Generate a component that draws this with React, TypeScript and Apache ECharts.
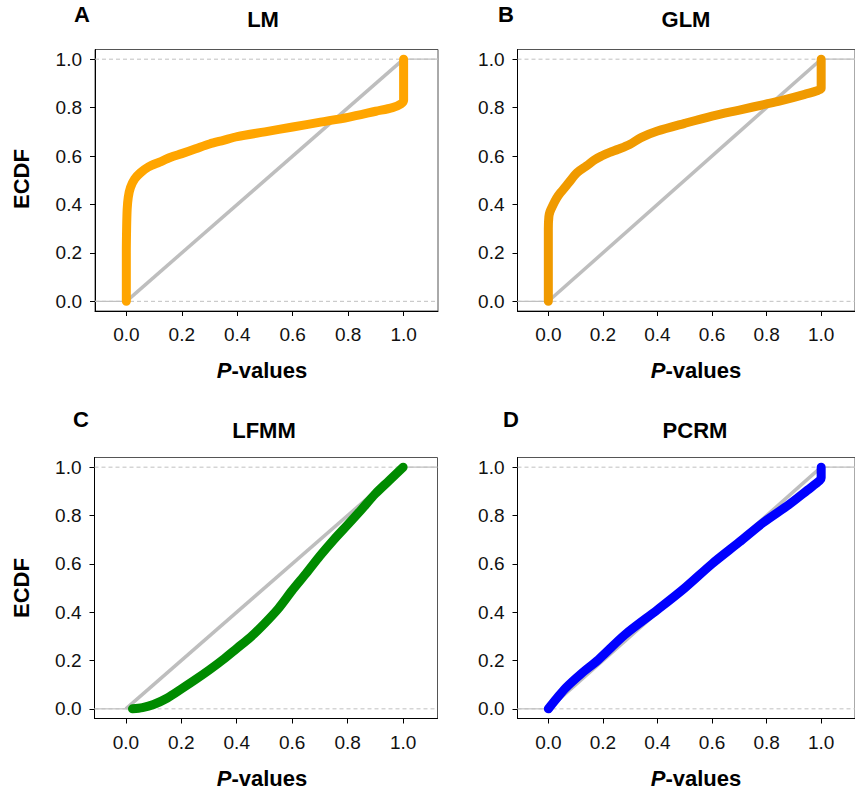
import React, { useEffect, useRef } from "react";
import * as echarts from "echarts";

// ---- Data ----
const tickValues = [0, 0.2, 0.4, 0.6, 0.8, 1.0];
const panelLetters = ["A", "B", "C", "D"];
const panelTitles = ["LM", "GLM", "LFMM", "PCRM"];
const panelColors = ["#FFA500", "#F09A00", "#008B00", "#0000FF"];

const lmP = [0, 0, 0, 0.001, 0.003, 0.007, 0.015, 0.03, 0.05, 0.08, 0.12, 0.16, 0.2, 0.25, 0.3, 0.35, 0.4, 0.5, 0.6, 0.7, 0.8, 0.9, 0.96, 0.99, 1.0, 1.0];
const lmEcdf = [0, 0.1, 0.2, 0.3, 0.38, 0.43, 0.47, 0.505, 0.53, 0.555, 0.575, 0.595, 0.61, 0.63, 0.65, 0.665, 0.68, 0.7, 0.72, 0.74, 0.76, 0.785, 0.8, 0.815, 0.83, 1.0];

const glmP = [0, 0, 0, 0.002, 0.006, 0.015, 0.03, 0.045, 0.075, 0.105, 0.14, 0.17, 0.195, 0.225, 0.256, 0.298, 0.34, 0.4, 0.5, 0.6, 0.7, 0.8, 0.85, 0.94, 0.99, 1.0, 1.0];
const glmEcdf = [0, 0.15, 0.3, 0.35, 0.37, 0.393, 0.425, 0.449, 0.49, 0.531, 0.559, 0.585, 0.6, 0.615, 0.628, 0.648, 0.676, 0.703, 0.735, 0.765, 0.79, 0.815, 0.828, 0.855, 0.872, 0.88, 1.0];

const lfmmP = [0.024, 0.06, 0.1, 0.15, 0.2, 0.25, 0.3, 0.35, 0.4, 0.45, 0.5, 0.55, 0.6, 0.65, 0.7, 0.75, 0.8, 0.85, 0.9, 0.95, 1.0];
const lfmmEcdf = [0, 0.005, 0.018, 0.045, 0.082, 0.12, 0.16, 0.203, 0.25, 0.297, 0.353, 0.415, 0.49, 0.56, 0.633, 0.7, 0.762, 0.825, 0.89, 0.945, 1.0];

const pcrmP = [0, 0.03, 0.064, 0.12, 0.184, 0.281, 0.4, 0.5, 0.6, 0.7, 0.787, 0.883, 0.95, 0.995, 1.0, 1.0];
const pcrmEcdf = [0, 0.042, 0.087, 0.145, 0.204, 0.307, 0.41, 0.5, 0.6, 0.69, 0.77, 0.846, 0.905, 0.945, 0.955, 1.0];

const panelX = [lmP, glmP, lfmmP, pcrmP];
const panelY = [lmEcdf, glmEcdf, lfmmEcdf, pcrmEcdf];

const xMin = -0.113;
const xMax = 1.124;
const yMin = -0.04;
const yMax = 1.04;

const FONT = "'Liberation Sans', Arial, Helvetica, sans-serif";

export default function App() {
  const ref = useRef<HTMLDivElement>(null);

  useEffect(() => {
    if (!ref.current) return;
    const chart = echarts.init(ref.current, undefined, { renderer: "svg" });

    const grids = [
      { left: 95, top: 49.5, width: 343, height: 261.5 },
      { left: 517.5, top: 49.5, width: 343, height: 261.5 },
      { left: 94.5, top: 457.5, width: 343, height: 261 },
      { left: 517.5, top: 457.5, width: 343, height: 261 },
    ];

    const xAxes = grids.map((_, i) => ({
      type: "value",
      gridIndex: i,
      min: xMin,
      max: xMax,
      axisLine: { show: true, onZero: false, lineStyle: { color: "#000", width: 1 } },
      axisTick: { show: true, length: 5, customValues: tickValues, lineStyle: { color: "#000" } },
      axisLabel: {
        customValues: tickValues,
        formatter: (v: number) => v.toFixed(1),
        fontSize: 19,
        color: "#111",
        fontFamily: FONT,
        margin: 14,
      },
      splitLine: { show: false },
    }));

    const yAxes = grids.map((_, i) => ({
      type: "value",
      gridIndex: i,
      min: yMin,
      max: yMax,
      axisLine: { show: true, onZero: false, lineStyle: { color: "#000", width: 1 } },
      axisTick: { show: true, length: 5, customValues: tickValues, lineStyle: { color: "#000" } },
      axisLabel: {
        customValues: tickValues,
        formatter: (v: number) => v.toFixed(1),
        fontSize: 19,
        color: "#111",
        fontFamily: FONT,
        margin: 13,
      },
      splitLine: { show: false },
    }));

    const series: any[] = [];
    for (let i = 0; i < 4; i++) {
      [0, 1].forEach((h) => {
        series.push({
          type: "line",
          xAxisIndex: i,
          yAxisIndex: i,
          data: [[xMin, h], [xMax, h]],
          symbol: "none",
          silent: true,
          lineStyle: { color: "#c0c0c0", width: 1, type: [4, 3] },
          z: 1,
        });
      });
      series.push({
        type: "line",
        xAxisIndex: i,
        yAxisIndex: i,
        data: [[xMin, 0], [0, 0]],
        symbol: "none",
        silent: true,
        lineStyle: { color: "#c0c0c0", width: 1.2 },
        z: 2,
      });
      series.push({
        type: "line",
        xAxisIndex: i,
        yAxisIndex: i,
        data: [[1, 1], [xMax, 1]],
        symbol: "none",
        silent: true,
        lineStyle: { color: "#c0c0c0", width: 1.2 },
        z: 2,
      });
      series.push({
        type: "line",
        xAxisIndex: i,
        yAxisIndex: i,
        data: [[0, 0], [1, 1]],
        symbol: "none",
        silent: true,
        lineStyle: { color: "#BEBEBE", width: 3.5 },
        z: 3,
      });
      series.push({
        type: "line",
        xAxisIndex: i,
        yAxisIndex: i,
        data: panelX[i].map((x, k) => [x, panelY[i][k]]),
        symbol: "none",
        smooth: 0.3,
        silent: true,
        lineStyle: { color: panelColors[i], width: 9, cap: "round", join: "round" },
        z: 4,
      });
    }

    const letterPos = [
      [82, 14],
      [506, 14],
      [81, 419],
      [511, 419],
    ];
    const titlePos = [
      [263, 19.5],
      [686, 19.5],
      [264, 430],
      [695, 430],
    ];
    const xNamePos = [
      [262, 370.5],
      [696, 370.5],
      [262, 778],
      [696, 778],
    ];

    const graphics: any[] = [];
    for (let i = 0; i < 4; i++) {
      graphics.push({
        type: "text",
        x: letterPos[i][0],
        y: letterPos[i][1],
        style: {
          text: panelLetters[i],
          font: `bold 22px ${FONT}`,
          fill: "#000",
          align: "center",
          verticalAlign: "middle",
        },
      });
      graphics.push({
        type: "text",
        x: titlePos[i][0],
        y: titlePos[i][1],
        style: {
          text: panelTitles[i],
          font: `bold 22px ${FONT}`,
          fill: "#000",
          align: "center",
          verticalAlign: "middle",
        },
      });
      graphics.push({
        type: "text",
        x: xNamePos[i][0],
        y: xNamePos[i][1],
        style: {
          text: "{i|P}{b|-values}",
          fill: "#000",
          align: "center",
          verticalAlign: "middle",
          rich: {
            i: { fontSize: 22, fontWeight: "bold", fontStyle: "italic", fontFamily: FONT, fill: "#000" },
            b: { fontSize: 22, fontWeight: "bold", fontFamily: FONT, fill: "#000" },
          },
        },
      });
    }
    [179, 588].forEach((cy) => {
      graphics.push({
        type: "text",
        x: 21,
        y: cy,
        rotation: Math.PI / 2,
        style: {
          text: "ECDF",
          font: `bold 22px ${FONT}`,
          fill: "#000",
          align: "center",
          verticalAlign: "middle",
        },
      });
    });

    chart.setOption({
      animation: false,
      backgroundColor: "#fff",
      grid: grids.map((g) => ({ ...g, show: true, borderColor: "#555", borderWidth: 1, backgroundColor: "transparent" })),
      xAxis: xAxes,
      yAxis: yAxes,
      series,
      graphic: graphics,
    });

    return () => chart.dispose();
  }, []);

  return (
    <div
      ref={ref}
      style={{ position: "absolute", left: 0, top: 0, width: 855, height: 795 }}
    />
  );
}
